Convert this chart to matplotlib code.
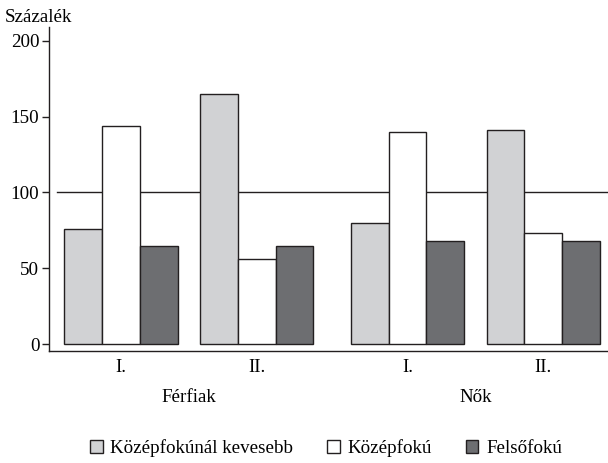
import numpy as np
import matplotlib.pyplot as plt
from matplotlib.patches import Patch

# Data (percent)
periods = ['I.', 'II.', 'I.', 'II.']
genders = ['Férfiak', 'Nők']
series_names = ['Középfokúnál kevesebb', 'Középfokú', 'Felsőfokú']
kozepfok_alatt = [76, 165, 80, 141]
kozepfoku = [144, 56, 140, 73]
felsofoku = [65, 65, 68, 68]

colors = ['#d1d2d4', '#ffffff', '#6d6e71']
edge = '#231f20'

plt.rcParams['font.family'] = ['Liberation Serif', 'DejaVu Serif']
plt.rcParams['font.size'] = 13.7

fig = plt.figure(figsize=(6.08, 4.63), dpi=100)
ax = fig.add_axes([49 / 608, 112 / 463, 559 / 608, 324 / 463])

# group centres: small gap inside a gender, larger gap between genders
centers = np.array([0, 3.6, 7.6, 11.2])
width = 1.0

for i, (vals, col) in enumerate(zip([kozepfok_alatt, kozepfoku, felsofoku], colors)):
    ax.bar(centers + (i - 1) * width, vals, width=width, color=col,
           edgecolor=edge, linewidth=1.0, zorder=3)

ax.axhline(100, xmin=8 / 559, xmax=1, color=edge, linewidth=1.0, zorder=1)

ax.set_xlim(-1.91, 12.92)
ax.set_ylim(-4.6, 209.2)
ax.set_yticks([0, 50, 100, 150, 200])
ax.tick_params(axis='y', length=5, width=1.0, color=edge, pad=2)
ax.set_xticks(centers)
ax.set_xticklabels(periods)
ax.tick_params(axis='x', length=0, pad=6)

for side in ['top', 'right']:
    ax.spines[side].set_visible(False)
for side in ['left', 'bottom']:
    ax.spines[side].set_color(edge)
    ax.spines[side].set_linewidth(1.0)

# gender labels under each pair of groups
trans = ax.get_xaxis_transform()
for g, name in enumerate(genders):
    xc = (centers[2 * g] + centers[2 * g + 1]) / 2
    ax.text(xc, -0.143, name, transform=trans, ha='center', va='center')

fig.text(5 / 608, 1 - 17 / 463, 'Százalék', ha='left', va='center')

handles = [Patch(facecolor=c, edgecolor=edge, linewidth=1.0) for c in colors]
fig.legend(handles, series_names, loc='center', ncol=3, frameon=False,
           bbox_to_anchor=(326 / 608, 1 - 448 / 463),
           handlelength=0.65, handleheight=0.65, handletextpad=0.4,
           columnspacing=1.8)

fig.savefig('out.png', dpi=100)
